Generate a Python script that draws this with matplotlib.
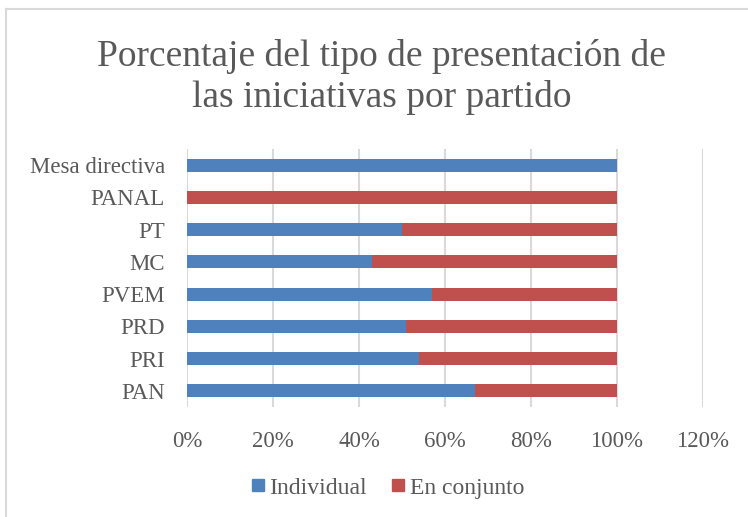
import matplotlib
matplotlib.use("Agg")
import matplotlib.pyplot as plt
from matplotlib.lines import Line2D
from matplotlib.ticker import PercentFormatter

categories = ["PAN", "PRI", "PRD", "PVEM", "MC", "PT", "PANAL", "Mesa directiva"]
individual = [67, 54, 51, 57, 43, 50, 0, 100]
conjunto = [33, 46, 49, 43, 57, 50, 100, 0]
xticks = [0, 20, 40, 60, 80, 100, 120]

blue = "#4F81BD"
red = "#C0504D"
gray = "#595959"

plt.rcParams['font.family'] = ['Liberation Serif', 'DejaVu Serif']

fig = plt.figure(figsize=(7.48, 5.17), dpi=100)
ax = fig.add_axes([187/748, 1-407/517, 516/748, 258/517])

y = range(len(categories))
ax.barh(y, individual, height=0.4, color=blue, label="Individual", zorder=3)
ax.barh(y, conjunto, left=individual, height=0.4, color=red, label="En conjunto", zorder=3)

ax.set_xlim(0, 120)
ax.set_ylim(-0.5, len(categories)-0.5)
ax.set_xticks(xticks)
ax.xaxis.set_major_formatter(PercentFormatter(decimals=0))
ax.set_yticks(list(y))
ax.set_yticklabels(categories)
ax.grid(axis='x', color='#D9D9D9', linewidth=1.5, zorder=0)
for s in ax.spines.values():
    s.set_visible(False)
ax.tick_params(axis='both', length=0, labelsize=16.5, labelcolor=gray)
ax.tick_params(axis='x', pad=17)
ax.tick_params(axis='y', pad=16)

fig.text(0.51, 1-77/517, "Porcentaje del tipo de presentación de\nlas iniciativas por partido",
         ha='center', va='center', fontsize=27, color=gray, linespacing=1.2)

handles = [Line2D([], [], marker='s', linestyle='none', color=blue, markersize=9),
           Line2D([], [], marker='s', linestyle='none', color=red, markersize=9)]
fig.legend(handles, ["Individual", "En conjunto"], loc='center', bbox_to_anchor=(385/748, 1-488/517),
           ncol=2, frameon=False, fontsize=17, labelcolor=gray, handletextpad=0.0,
           columnspacing=0.8, handlelength=1.0)

fig.add_artist(Line2D([6/748, 1.0], [1-9/517, 1-9/517], color='#D9D9D9', linewidth=1.5))
fig.add_artist(Line2D([6/748, 6/748], [1-9/517, 0], color='#D9D9D9', linewidth=1.5))

fig.savefig("out.png", dpi=100)
